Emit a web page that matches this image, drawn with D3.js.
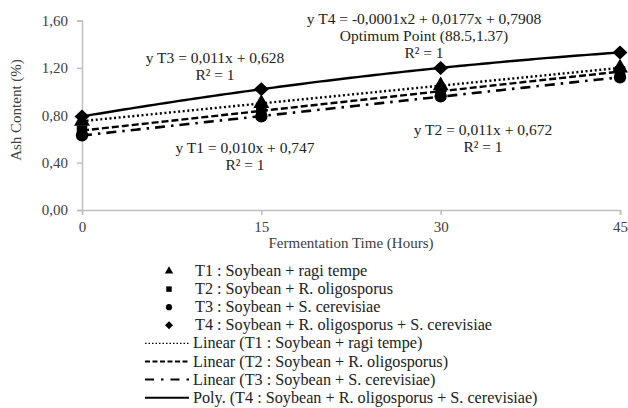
<!DOCTYPE html>
<html><head><meta charset="utf-8">
<script src="https://cdn.jsdelivr.net/npm/d3@7"></script>
<style>body{margin:0;background:#fff;} text{font-family:"Liberation Serif","Times New Roman",serif;}</style>
</head><body>
<svg id="c" width="628" height="408"></svg>
<script>
const times = [0, 15, 30, 45];
const xTicks = [0, 15, 30, 45];
const yTicks = [0, 0.4, 0.8, 1.2, 1.6];
const seriesNames = [
  "T1 : Soybean + ragi tempe",
  "T2 : Soybean + R. oligosporus",
  "T3 : Soybean + S. cerevisiae",
  "T4 : Soybean + R. oligosporus + S. cerevisiae"
];
const t1 = [0.75, 0.90, 1.05, 1.20];
const t2 = [0.67, 0.84, 1.00, 1.17];
const t3 = [0.63, 0.79, 0.96, 1.12];
const t4 = [0.79, 1.02, 1.20, 1.33];
const trendNames = [
  "Linear (T1 : Soybean + ragi tempe)",
  "Linear (T2 : Soybean + R. oligosporus)",
  "Linear (T3 : Soybean + S. cerevisiae)",
  "Poly. (T4 : Soybean + R. oligosporus + S. cerevisiae)"
];
const eqT3 = ["y T3 = 0,011x + 0,628", "R² = 1"];
const eqT1 = ["y T1  = 0,010x + 0,747", "R² = 1"];
const eqT4 = ["y T4 = -0,0001x2  + 0,0177x + 0,7908", "Optimum  Point (88.5,1.37)", "R² = 1"];
const eqT2 = ["y T2 = 0,011x + 0,672", "R² = 1"];

const FONT = "'Liberation Serif', 'Times New Roman', serif";
const svg = d3.select("#c");
const x = d3.scaleLinear().domain([0, 45]).range([82, 620]);
const y = d3.scaleLinear().domain([0, 1.6]).range([210, 20.5]);
const axisCol = "#bfbfbf", textCol = "#404040";
const fmt = d => d3.format(".2f")(d).replace(".", ",");

// axes
const ya = svg.append("g").attr("transform", "translate(82,0)")
  .call(d3.axisLeft(y).tickValues(yTicks).tickSize(5).tickPadding(9).tickFormat(fmt));
const xa = svg.append("g").attr("transform", "translate(0,210)")
  .call(d3.axisBottom(x).tickValues(xTicks).tickSize(5).tickPadding(6).tickFormat(d3.format("d")));
[ya, xa].forEach(g => {
  g.attr("font-family", FONT).attr("font-size", 15);
  g.select(".domain").attr("stroke", axisCol).attr("stroke-width", 1.5);
  g.selectAll(".tick line").attr("stroke", axisCol).attr("stroke-width", 1.5);
  g.selectAll(".tick text").attr("fill", textCol);
});
svg.append("text").attr("x", 351).attr("y", 248).attr("text-anchor", "middle")
  .attr("fill", textCol).style("font-size", "15px").text("Fermentation Time (Hours)");
svg.append("text").attr("transform", "translate(21,110) rotate(-90)").attr("text-anchor", "middle")
  .attr("fill", textCol).style("font-size", "15px").text("Ash Content (%)");

// fits
function linFit(xs, ys) {
  const mx = d3.mean(xs), my = d3.mean(ys);
  const b = d3.sum(xs, (v, i) => (v - mx) * (ys[i] - my)) / d3.sum(xs, v => (v - mx) ** 2);
  return v => my + b * (v - mx);
}
function quadFit(xs, ys) {
  const S = k => d3.sum(xs, v => v ** k);
  const T = k => d3.sum(xs, (v, i) => v ** k * ys[i]);
  const A = [[S(0), S(1), S(2)], [S(1), S(2), S(3)], [S(2), S(3), S(4)]];
  const B = [T(0), T(1), T(2)];
  const n = 3, M = A.map((r, i) => [...r, B[i]]);
  for (let i = 0; i < n; i++) {
    for (let j = i + 1; j < n; j++) {
      const f = M[j][i] / M[i][i];
      for (let k = i; k <= n; k++) M[j][k] -= f * M[i][k];
    }
  }
  const c = [0, 0, 0];
  for (let i = n - 1; i >= 0; i--) {
    let s = M[i][n];
    for (let k = i + 1; k < n; k++) s -= M[i][k] * c[k];
    c[i] = s / M[i][i];
  }
  return v => c[0] + c[1] * v + c[2] * v * v;
}
const dashes = ["2,2.6", "7,3", "10,6,2.5,6", null];
const widths = [2.4, 2.4, 2.6, 2.4];
const data = [t1, t2, t3, t4];
const fits = [linFit(times, t1), linFit(times, t2), linFit(times, t3), quadFit(times, t4)];
const xs = d3.range(0, 45.01, 0.5);
const line = d3.line().x(d => x(d[0])).y(d => y(d[1]));
fits.forEach((f, i) => {
  svg.append("path").datum(xs.map(v => [v, f(v)])).attr("d", line)
    .attr("fill", "none").attr("stroke", "#000").attr("stroke-width", widths[i])
    .attr("stroke-dasharray", dashes[i]);
});

// markers
const diamond = (w, h) => `M0,${-h/2}L${w/2},0L0,${h/2}L${-w/2},0Z`;
const syms = [d3.symbolTriangle, d3.symbolSquare, d3.symbolCircle];
const sizes = [110, 110, 120];
data.forEach((vals, i) => {
  svg.append("g").selectAll("path").data(vals).join("path")
    .attr("transform", (d, j) => `translate(${x(times[j])},${y(d)})`)
    .attr("d", i === 3 ? diamond(15, 14) : d3.symbol(syms[i], sizes[i])).attr("fill", "#000");
});

// annotations
function ann(lines, cx, y0, dy) {
  lines.forEach((t, k) => svg.append("text").attr("x", cx).attr("y", y0 + k * dy)
    .attr("text-anchor", "middle").attr("fill", "#222").style("font-size", "15.5px").text(t));
}
ann(eqT3, 215, 63, 17);
ann(eqT1, 245, 153, 17);
ann(eqT4, 424, 24, 17);
ann(eqT2, 483, 135, 17);

// legend
const legY = d => 271 + d * 18.1;
seriesNames.forEach((n, i) => {
  svg.append("path").attr("transform", `translate(169,${legY(i)})`)
    .attr("d", i === 3 ? diamond(8, 8) : d3.symbol(syms[i], 30)).attr("fill", "#000");
  svg.append("text").attr("x", 195).attr("y", legY(i) + 5).attr("fill", "#222")
    .style("font-size", "16.2px").text(n);
});
trendNames.forEach((n, i) => {
  const yy = legY(i + 4);
  svg.append("line").attr("x1", 145).attr("x2", 189).attr("y1", yy).attr("y2", yy)
    .attr("stroke", "#000").attr("stroke-width", i === 0 ? 1.3 : 2)
    .attr("stroke-dasharray", i === 0 ? "1.5,2" : i === 1 ? "5,2.5" : i === 2 ? "9,7,2.5,7" : null);
  svg.append("text").attr("x", 193).attr("y", yy + 5).attr("fill", "#222")
    .style("font-size", "16.2px").text(n);
});
</script>
</body></html>
